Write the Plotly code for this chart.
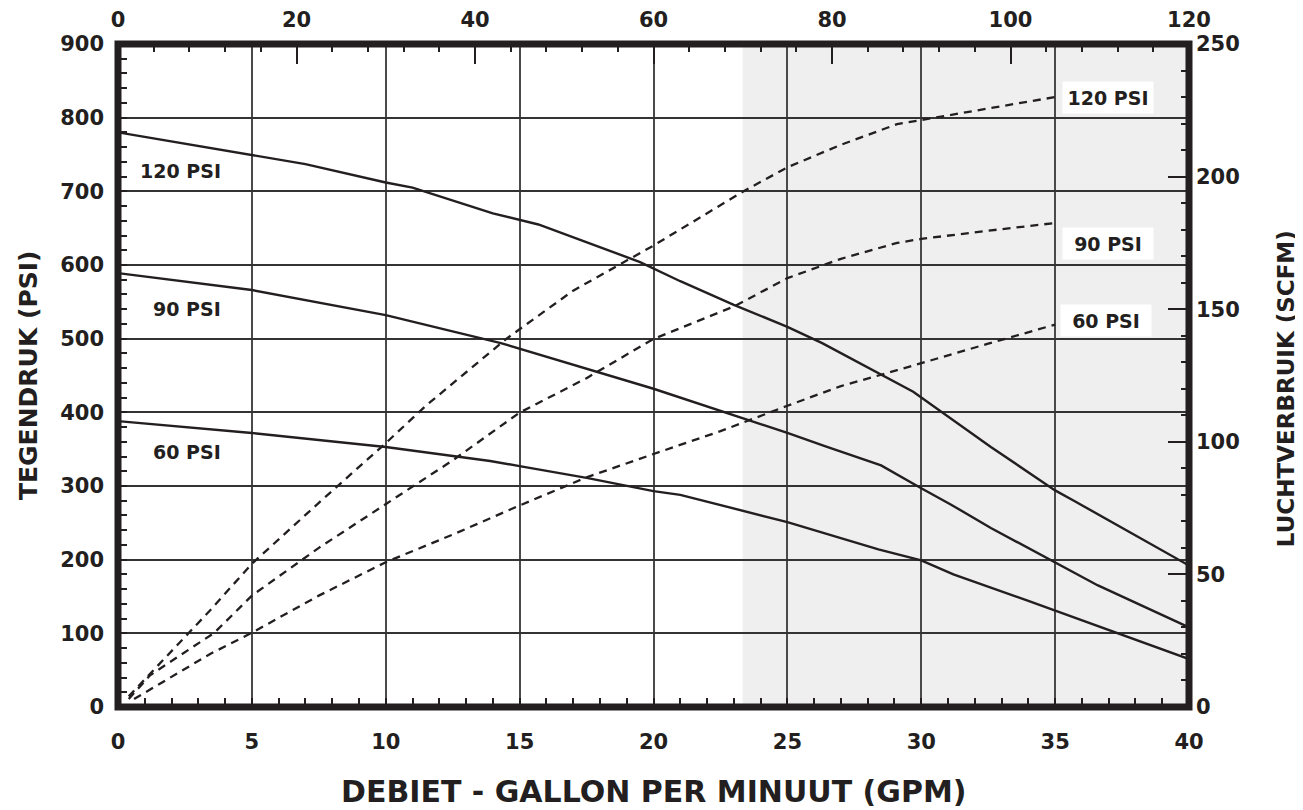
import plotly.graph_objects as go

# ---------------- data ----------------
# Back pressure (PSI) vs flow (GPM), solid curves
GPM_P120 = [0, 5, 7, 10, 11, 14, 15.7, 19.5, 21, 23, 25, 26.3, 28.1, 29.7, 32.6, 35, 35.7, 40]
PSI_P120 = [780, 750, 737, 712, 705, 670, 655, 604, 578, 546, 516, 494, 459, 428, 353, 294, 280, 192]

GPM_P90 = [0, 5, 10, 14.3, 20, 25, 26.4, 28.5, 30, 31.1, 32.6, 35, 36.6, 40]
PSI_P90 = [589, 566, 532, 494, 432, 372, 354, 328, 297, 275, 243, 196, 165, 108]

GPM_P60 = [0, 5, 10, 13.9, 15, 17.5, 20, 21, 25, 26.4, 28.4, 30, 31.2, 34, 35, 40]
PSI_P60 = [388, 372, 353, 334, 327, 311, 293, 288, 251, 236, 214, 199, 180, 144, 131, 65]

# Air consumption (SCFM) vs flow (GPM), dashed curves
GPM_A120 = [0.4, 1.7, 3.4, 5, 7.5, 10, 11.5, 14.5, 17, 20, 23.4, 25, 27, 29.1, 30, 32.5, 35]
SCFM_A120 = [4, 18, 36, 54, 77, 99.5, 113.6, 138.8, 157, 174, 194.7, 203.5, 212, 219.8, 221.4, 225.7, 230]

GPM_A90 = [0.4, 1.2, 3.6, 5, 7.5, 10, 12.5, 15, 17.5, 20, 23, 25, 27, 29.1, 30, 32.5, 35]
SCFM_A90 = [3, 12, 28, 42, 60, 76.5, 93, 111, 124, 138.8, 151, 161.7, 169, 175, 176.5, 179.6, 182.5]

GPM_A60 = [0.6, 1.45, 3.44, 5, 7.5, 10, 12.5, 15, 17.5, 20, 22.5, 25, 27, 29.1, 30, 32.5, 35]
SCFM_A60 = [3, 8, 20, 28, 42, 54.6, 65, 76, 86.6, 95.4, 104, 113.6, 121, 127, 129.7, 137, 144.2]

CURVE_NAMES = ["120 PSI", "90 PSI", "60 PSI"]
GPM_RANGE = [0, 40]
LPM_RANGE = [0, 120]
PSI_RANGE = [0, 900]
SCFM_RANGE = [0, 250]
SHADE_START_GPM = 23.33

X_TITLE = "DEBIET - GALLON PER MINUUT (GPM)"
Y_TITLE = "TEGENDRUK (PSI)"
Y2_TITLE = "LUCHTVERBRUIK (SCFM)"

# ---------------- style ----------------
INK = "#231f20"
FONT = "DejaVu Sans"
tickfont = dict(family=FONT, size=21, color=INK, weight="bold")

fig = go.Figure()

fig.add_shape(type="rect", xref="x", yref="paper", x0=SHADE_START_GPM, x1=GPM_RANGE[1],
              y0=0, y1=1, fillcolor="#efefef", line_width=0, layer="below")

for gx, gy in [(GPM_P120, PSI_P120), (GPM_P90, PSI_P90), (GPM_P60, PSI_P60)]:
    fig.add_trace(go.Scatter(x=gx, y=gy, mode="lines", xaxis="x", yaxis="y",
                             line=dict(color=INK, width=2.4), showlegend=False, hoverinfo="skip"))

for gx, gy in [(GPM_A120, SCFM_A120), (GPM_A90, SCFM_A90), (GPM_A60, SCFM_A60)]:
    fig.add_trace(go.Scatter(x=gx, y=gy, mode="lines", xaxis="x", yaxis="y2",
                             line=dict(color=INK, width=2.3, dash="8px,6px"),
                             showlegend=False, hoverinfo="skip"))

# carrier trace for the top axis
fig.add_trace(go.Scatter(x=LPM_RANGE, y=[None, None], xaxis="x2", yaxis="y", mode="lines",
                         showlegend=False, hoverinfo="skip"))

# in-plot labels (left, pressure curves)
for name, yv in zip(CURVE_NAMES, [728, 540, 346]):
    fig.add_annotation(x=3.93, y=yv, xref="x", yref="y", text=name, showarrow=False,
                       xanchor="right", yanchor="middle",
                       font=dict(family=FONT, size=19, color=INK, weight="bold"))

# right labels (air curves) with white boxes
for name, yv, xv in zip(CURVE_NAMES, [229.7, 174.8, 145.6], [36.96, 36.97, 36.9]):
    fig.add_annotation(x=xv, y=yv, xref="x", yref="y2", text=name, showarrow=False,
                       xanchor="center", yanchor="middle", bgcolor="white",
                       width=84, height=25, borderpad=3,
                       font=dict(family=FONT, size=19, color=INK, weight="bold"))

# axis titles
fig.add_annotation(x=0.5, y=-0.127, xref="paper", yref="paper", text=X_TITLE, showarrow=False,
                   xanchor="center", yanchor="middle",
                   font=dict(family=FONT, size=30, color=INK, weight="bold"))
fig.add_annotation(x=-0.0835, y=0.5, xref="paper", yref="paper", text=Y_TITLE, showarrow=False,
                   textangle=-90, xanchor="center", yanchor="middle",
                   font=dict(family=FONT, size=25, color=INK, weight="bold"))
fig.add_annotation(x=1.09, y=0.48, xref="paper", yref="paper", text=Y2_TITLE, showarrow=False,
                   textangle=-90, xanchor="center", yanchor="middle",
                   font=dict(family=FONT, size=23, color=INK, weight="bold"))

# frame
fig.add_shape(type="rect", xref="paper", yref="paper", x0=0, x1=1, y0=0, y1=1,
              line=dict(color=INK, width=7), layer="above")

common_minor = dict(ticks="inside", tickcolor=INK, tickwidth=1.5, showgrid=False)

# the page body has an 8px margin, so the figure is sized/offset to compensate
fig.update_layout(
    width=1295, height=802, autosize=False,
    margin=dict(l=110, r=114, t=36, b=103, autoexpand=False),
    paper_bgcolor="white", plot_bgcolor="white",
    xaxis=dict(range=GPM_RANGE, tickmode="linear", tick0=0, dtick=5,
               ticks="inside", ticklen=9, tickwidth=1.5, tickcolor=INK,
               minor=dict(dtick=1, ticklen=9, **common_minor),
               showgrid=True, gridcolor="#4a4a4a", gridwidth=1.5, automargin=False,
               zeroline=False, showline=False, tickfont=tickfont, ticklabelstandoff=20),
    xaxis2=dict(range=LPM_RANGE, overlaying="x", side="top", anchor="y",
                tickmode="linear", tick0=0, dtick=20,
                ticks="inside", ticklen=20, tickwidth=1.5, tickcolor=INK,
                minor=dict(dtick=4, ticklen=8, **common_minor),
                showgrid=False, zeroline=False, showline=False, automargin=False,
                tickfont=tickfont, ticklabelstandoff=12),
    yaxis=dict(range=PSI_RANGE, tickmode="linear", tick0=0, dtick=100,
               ticks="inside", ticklen=9, tickwidth=1.5, tickcolor=INK,
               minor=dict(dtick=20, ticklen=9, **common_minor),
               showgrid=True, gridcolor="#333333", gridwidth=1.5, automargin=False,
               zeroline=False, showline=False, tickfont=tickfont, ticklabelstandoff=13),
    yaxis2=dict(range=SCFM_RANGE, overlaying="y", side="right", anchor="x",
                tickmode="linear", tick0=0, dtick=50,
                ticks="inside", ticklen=21, tickwidth=1.5, tickcolor=INK,
                minor=dict(dtick=10, ticklen=8, **common_minor),
                showgrid=False, zeroline=False, showline=False, automargin=False,
                tickfont=tickfont, ticklabelstandoff=6),
)

fig.write_html("out.html")
